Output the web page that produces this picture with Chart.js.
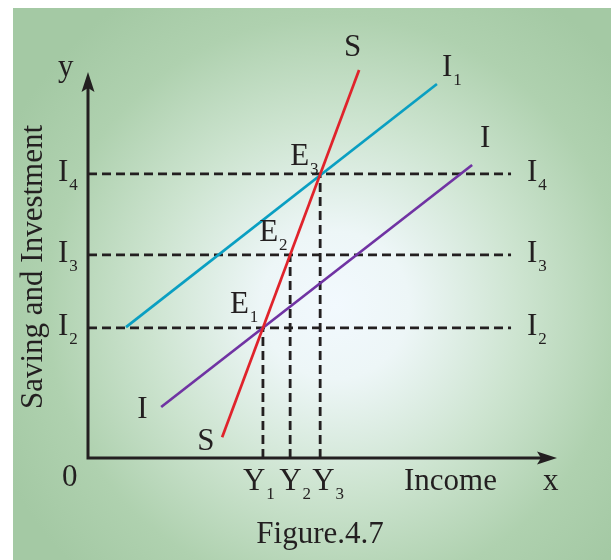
<!DOCTYPE html>
<html>
<head>
<meta charset="utf-8">
<script src="https://cdn.jsdelivr.net/npm/chart.js@4/dist/chart.umd.min.js"></script>
<style>
  html, body { margin: 0; padding: 0; background: #fff; }
  #wrap { width: 611px; height: 560px; }
</style>
</head>
<body>
<div id="wrap"><canvas id="fig" width="611" height="560"></canvas></div>
<script>
// income levels Y1, Y2, Y3 (x axis)
const incomeLevels = [37.3, 43.1, 49.5];
const incomeSubs = ["1", "2", "3"];
// investment levels I2, I3, I4 (y axis)
const investLevels = [33.7, 52.6, 73.6];
const investSubs = ["2", "3", "4"];
const guideEndX = 90.2;

// saving schedule S
const savingX = [28.6, 57.8];
const savingY = [5.4, 100.5];
// investment schedule I
const invX = [15.6, 81.9];
const invY = [13.2, 75.9];
// shifted investment schedule I1
const inv1X = [8.1, 74.4];
const inv1Y = [33.9, 96.9];

const FONT = '"Liberation Serif", "DejaVu Serif", serif';
const INK = "#231f20";
const BIG = 31, SMALL = 17;

const pts = (xs, ys) => xs.map((x, i) => ({ x: x, y: ys[i] }));

const lineStyle = (color) => ({
  borderColor: color,
  borderWidth: 2.7,
  pointRadius: 0,
  showLine: true,
  fill: false,
  clip: false,
  borderCapStyle: "butt",
});

const dashStyle = {
  borderColor: INK,
  borderWidth: 2.8,
  borderDash: [9, 5],
  pointRadius: 0,
  showLine: true,
  fill: false,
  clip: false,
  borderCapStyle: "butt",
};

const datasets = [
  { label: "S", data: pts(savingX, savingY), ...lineStyle("#e0232b") },
  { label: "I1", data: pts(inv1X, inv1Y), ...lineStyle("#0a9fc2") },
  { label: "I", data: pts(invX, invY), ...lineStyle("#7033a3") },
];
investLevels.forEach((lvl, i) => {
  datasets.push({ label: "I" + investSubs[i], data: [{ x: 0, y: lvl }, { x: guideEndX, y: lvl }], ...dashStyle });
});
incomeLevels.forEach((lvl, i) => {
  datasets.push({ label: "Y" + incomeSubs[i], data: [{ x: lvl, y: 0 }, { x: lvl, y: investLevels[i] }], ...dashStyle });
});

function subText(ctx, main, sub, x, y) {
  ctx.font = BIG + "px " + FONT;
  ctx.fillText(main, x, y);
  const w = ctx.measureText(main).width;
  if (sub) {
    ctx.font = SMALL + "px " + FONT;
    ctx.fillText(sub, x + w + 1, y + 9);
  }
}

const background = {
  id: "background",
  beforeDraw(chart) {
    const ctx = chart.ctx;
    ctx.save();
    ctx.fillStyle = "#fff";
    ctx.fillRect(0, 0, chart.width, chart.height);
    const g = ctx.createRadialGradient(335, 305, 0, 335, 305, 370);
    g.addColorStop(0, "#f2f9fe");
    g.addColorStop(0.2, "#edf6f7");
    g.addColorStop(0.5, "#cde4d0");
    g.addColorStop(0.78, "#afd1af");
    g.addColorStop(1, "#a4c9a4");
    ctx.fillStyle = g;
    ctx.fillRect(13, 8, chart.width - 13, chart.height - 8);
    ctx.restore();
  },
};

const axesAndLabels = {
  id: "axesAndLabels",
  afterDatasetsDraw(chart) {
    const ctx = chart.ctx;
    const xs = chart.scales.x, ys = chart.scales.y;
    const ox = xs.getPixelForValue(0), oy = ys.getPixelForValue(0);
    const top = chart.chartArea.top, right = chart.chartArea.right;
    ctx.save();
    ctx.strokeStyle = INK;
    ctx.fillStyle = INK;
    ctx.lineWidth = 3;
    ctx.beginPath();
    ctx.moveTo(ox, top + 10);
    ctx.lineTo(ox, oy);
    ctx.lineTo(right - 10, oy);
    ctx.stroke();
    // arrow heads
    ctx.beginPath();
    ctx.moveTo(ox, top);
    ctx.lineTo(ox + 6.5, top + 20);
    ctx.lineTo(ox, top + 16);
    ctx.lineTo(ox - 6.5, top + 20);
    ctx.closePath();
    ctx.fill();
    ctx.beginPath();
    ctx.moveTo(right, oy);
    ctx.lineTo(right - 20, oy - 6.5);
    ctx.lineTo(right - 16, oy);
    ctx.lineTo(right - 20, oy + 6.5);
    ctx.closePath();
    ctx.fill();

    ctx.textBaseline = "alphabetic";
    ctx.textAlign = "left";
    ctx.font = BIG + "px " + FONT;
    ctx.fillText("y", ox - 30, top + 4);
    ctx.fillText("0", ox - 26, oy + 28);
    ctx.fillText("x", right - 14, oy + 32);
    ctx.fillText("Income", 404, oy + 32);

    // investment levels, both sides
    investLevels.forEach((lvl, i) => {
      const py = ys.getPixelForValue(lvl);
      subText(ctx, "I", investSubs[i], ox - 30, py + 7);
      subText(ctx, "I", investSubs[i], xs.getPixelForValue(guideEndX) + 16, py + 7);
    });
    // income levels
    const yOff = [-20, -11, -8];
    incomeLevels.forEach((lvl, i) => {
      subText(ctx, "Y", incomeSubs[i], xs.getPixelForValue(lvl) + yOff[i], oy + 32);
    });
    // equilibrium points
    const eOff = [[-33, -15], [-31, -14], [-30, -9]];
    incomeLevels.forEach((lvl, i) => {
      const px = xs.getPixelForValue(lvl), py = ys.getPixelForValue(investLevels[i]);
      subText(ctx, "E", String(i + 1), px + eOff[i][0], py + eOff[i][1]);
    });
    // schedule labels
    const at = (x, y) => [xs.getPixelForValue(x), ys.getPixelForValue(y)];
    let p = at(savingX[1], savingY[1]);
    subText(ctx, "S", "", p[0] - 15, p[1] - 14);
    p = at(savingX[0], savingY[0]);
    subText(ctx, "S", "", p[0] - 25, p[1] + 13);
    p = at(inv1X[1], inv1Y[1]);
    subText(ctx, "I", "1", p[0] + 5, p[1] - 8);
    p = at(invX[1], invY[1]);
    subText(ctx, "I", "", p[0] + 8, p[1] - 18);
    p = at(invX[0], invY[0]);
    subText(ctx, "I", "", p[0] - 24, p[1] + 11);

    // axis title
    ctx.save();
    ctx.translate(42, 267);
    ctx.rotate(-Math.PI / 2);
    ctx.textAlign = "center";
    ctx.font = BIG + "px " + FONT;
    ctx.fillText("Saving and Investment", 0, 0);
    ctx.restore();

    // caption
    ctx.textAlign = "center";
    ctx.font = BIG + "px " + FONT;
    ctx.fillText("Figure.4.7", 320, 543);
    ctx.restore();
  },
};

new Chart(document.getElementById("fig"), {
  type: "scatter",
  data: { datasets: datasets },
  options: {
    responsive: false,
    devicePixelRatio: 1,
    animation: false,
    events: [],
    layout: { padding: { left: 88, right: 54, top: 72, bottom: 102 } },
    plugins: { legend: { display: false }, tooltip: { enabled: false } },
    scales: {
      x: { type: "linear", min: 0, max: 100, display: false },
      y: { type: "linear", min: 0, max: 100, display: false },
    },
  },
  plugins: [background, axesAndLabels],
});
</script>
</body>
</html>
